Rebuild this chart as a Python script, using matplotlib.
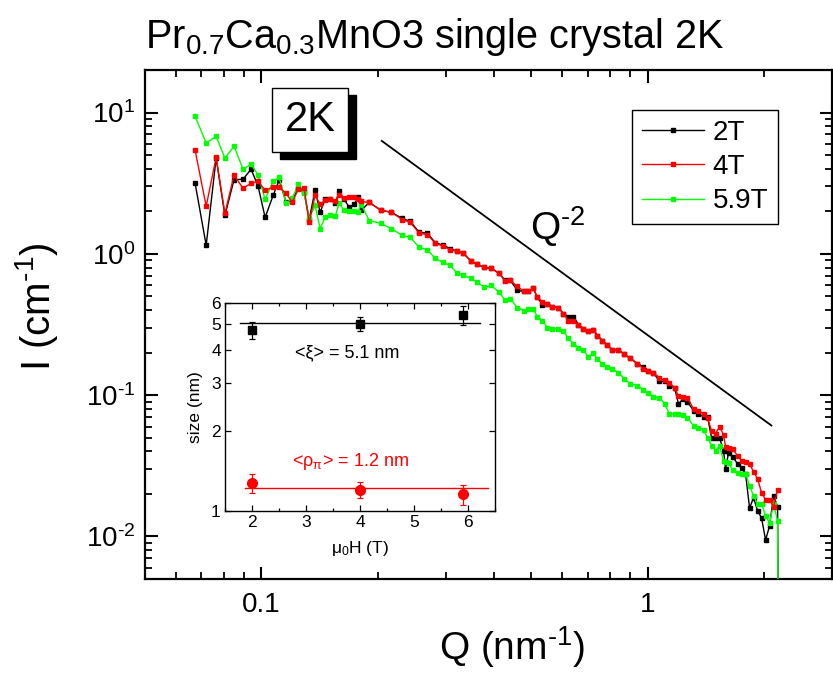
import numpy as np
import matplotlib
matplotlib.use("Agg")
import matplotlib.pyplot as plt
from matplotlib.patches import Rectangle
from matplotlib.ticker import FixedLocator, FixedFormatter, NullFormatter, LogLocator

plt.rcParams['font.family'] = ['Liberation Sans', 'DejaVu Sans']
plt.rcParams['mathtext.fontset'] = 'custom'
plt.rcParams['mathtext.rm'] = 'Liberation Sans'
plt.rcParams['mathtext.it'] = 'Liberation Sans'
plt.rcParams['mathtext.default'] = 'regular'

HY = "\u2010"  # short hyphen used as minus sign in the original

# ---------------------------------------------------------------
# data
# ---------------------------------------------------------------
q = [0.0674, 0.0720, 0.0764, 0.0805, 0.0850, 0.0897, 0.0941, 0.0981, 0.1023, 0.1073,
     0.1112, 0.1160, 0.1202, 0.1246, 0.1291, 0.1330, 0.1378, 0.1420, 0.1463, 0.1508,
     0.1553, 0.1591, 0.1639, 0.1689, 0.1740, 0.1781, 0.1814, 0.1902, 0.2043, 0.2169,
     0.2317, 0.2429, 0.2563, 0.2689, 0.2820, 0.2958, 0.3084, 0.3216, 0.3333, 0.3497,
     0.3624, 0.3778, 0.3939, 0.4131, 0.4281, 0.4411, 0.4599, 0.4796, 0.4911, 0.5060,
     0.5182, 0.5339, 0.5501, 0.5667, 0.5873, 0.6051, 0.6235, 0.6424, 0.6619, 0.6820,
     0.7027, 0.7239, 0.7413, 0.7638, 0.7868, 0.8105, 0.8402, 0.8707, 0.9026, 0.9410,
     0.9754, 1.0049, 1.0354, 1.0730, 1.1056, 1.1390, 1.1735, 1.2016, 1.2381, 1.2678,
     1.3142, 1.3538, 1.3950, 1.4289, 1.4632, 1.4986, 1.5346, 1.5719, 1.5908, 1.6197,
     1.6586, 1.7090, 1.7498, 1.7922, 1.8356, 1.8796, 1.9251, 1.9718, 2.0193, 2.0682,
     2.1178, 2.1690, 2.1950]

i_2t = [3.16, 1.15, 4.75, 1.87, 3.35, 3.37, 3.97, 3.01, 1.81, 2.59,
        3.32, 2.31, 2.39, 2.91, 2.72, 1.75, 2.82, 1.97, 2.43, 2.43,
        2.28, 2.77, 2.43, 2.13, 2.24, 2.51, 2.03, 2.31, 2.03, 1.97,
        1.78, 1.70, 1.42, 1.40, 1.20, 1.15, 1.09, 1.04, 1.01, 0.883,
        0.841, 0.801, 0.789, 0.727, 0.648, 0.648, 0.551, 0.542, 0.542, 0.569,
        0.491, 0.438, 0.445, 0.424, 0.417, 0.378, 0.360, 0.360, 0.316, 0.296,
        0.286, 0.291, 0.264, 0.243, 0.225, 0.210, 0.210, 0.194, 0.182, 0.167,
        0.159, 0.149, 0.144, 0.125, 0.125, 0.117, 0.113, 0.0869, 0.0944, 0.0898,
        0.0776, 0.0738, 0.0703, 0.0703, 0.0500, 0.0500, 0.0500, 0.0404, 0.0301, 0.0391,
        0.0366, 0.0327, 0.0306, 0.0278, 0.0159, 0.0188, 0.0152, 0.0135, 0.00944, 0.0119,
        0.0194, 0.0162, 0.0001]

i_4t = [5.41, 2.17, 4.82, 1.93, 3.60, 2.91, 3.16, 3.26, 2.82, 2.96,
        2.96, 2.68, 2.31, 2.86, 2.91, 1.67, 2.59, 2.24, 2.39, 2.43,
        2.35, 2.59, 2.47, 2.51, 2.51, 2.43, 2.35, 2.31, 2.03, 1.97,
        1.75, 1.67, 1.40, 1.37, 1.19, 1.13, 1.07, 1.04, 1.01, 0.883,
        0.841, 0.801, 0.789, 0.727, 0.638, 0.648, 0.588, 0.542, 0.542, 0.569,
        0.491, 0.460, 0.445, 0.424, 0.417, 0.378, 0.337, 0.337, 0.316, 0.296,
        0.286, 0.291, 0.264, 0.243, 0.225, 0.210, 0.210, 0.194, 0.182, 0.167,
        0.154, 0.149, 0.144, 0.133, 0.127, 0.122, 0.113, 0.0991, 0.0975, 0.0959,
        0.0801, 0.0776, 0.0738, 0.0692, 0.0560, 0.0533, 0.0598, 0.0525, 0.0432, 0.0425,
        0.0418, 0.0372, 0.0343, 0.0338, 0.0327, 0.0287, 0.0256, 0.0204, 0.0182, 0.0182,
        0.0162, 0.0214, np.nan]

i_59t = [9.43, 6.07, 6.80, 4.74, 5.78, 3.97, 4.31, 3.60, 2.43, 3.26,
         3.48, 2.28, 2.47, 3.10, 2.68, 1.78, 2.20, 1.51, 1.81, 1.87,
         1.84, 2.28, 2.03, 2.00, 2.00, 1.97, 2.24, 1.72, 1.64, 1.51,
         1.35, 1.31, 1.11, 1.07, 0.927, 0.869, 0.828, 0.727, 0.704, 0.670,
         0.628, 0.578, 0.598, 0.533, 0.468, 0.483, 0.417, 0.397, 0.410, 0.404,
         0.360, 0.337, 0.301, 0.296, 0.296, 0.286, 0.252, 0.232, 0.217, 0.210,
         0.185, 0.200, 0.179, 0.167, 0.159, 0.154, 0.144, 0.131, 0.120, 0.117,
         0.109, 0.104, 0.0975, 0.0959, 0.0869, 0.0738, 0.0738, 0.0738, 0.0727, 0.0692,
         0.0608, 0.0589, 0.0569, 0.0500, 0.0439, 0.0404, 0.0439, 0.0343, 0.0338, 0.0332,
         0.0296, 0.0282, 0.0278, 0.0278, 0.0228, 0.0194, 0.0170, 0.0170, 0.0140, 0.0125,
         0.0170, 0.0129, 0.0001]

series_labels = ["2T", "4T", "5.9T"]
series_colors = ["black", "red", "#00ff00"]

# Q^-2 guide line end points
q_guide = [0.205, 2.09]
i_guide = [6.3, 0.061]

# inset: correlation lengths vs field
field = [2.0, 4.0, 5.9]
xi = [4.75, 5.0, 5.4]
xi_err = [0.35, 0.3, 0.45]
rho = [1.27, 1.20, 1.155]
rho_err = [0.10, 0.085, 0.10]
xi_mean_x = [1.78, 6.22]
xi_mean = [5.05, 5.05]
rho_mean_x = [1.87, 6.37]
rho_mean = [1.22, 1.22]

x_ticks = [0.1, 1]
x_tick_labels = ["0.1", "1"]
y_ticks = [0.01, 0.1, 1, 10]
y_tick_labels = ["$10^{%s2}$" % HY, "$10^{%s1}$" % HY, "$10^{0}$", "$10^{1}$"]
ins_x_ticks = [2, 3, 4, 5, 6]
ins_y_ticks = [1, 2, 3, 4, 5, 6]

# ---------------------------------------------------------------
# main plot
# ---------------------------------------------------------------
fig = plt.figure(figsize=(8.33, 6.73), dpi=100)
ax = fig.add_axes([145 / 833, 1 - 579 / 673, 687 / 833, 509 / 673])

for ys, lab, col, z in zip([i_2t, i_4t, i_59t], series_labels, series_colors, [2, 4, 3]):
    ax.plot(q, ys, "-s", color=col, lw=1.0, ms=3.2, mec=col, label=lab, zorder=z)

ax.plot(q_guide, i_guide, color="black", lw=1.3)

ax.set_xscale("log")
ax.set_yscale("log")
ax.set_xlim(0.05, 3)
ax.set_ylim(0.005, 20)

ax.xaxis.set_major_locator(FixedLocator(x_ticks))
ax.xaxis.set_major_formatter(FixedFormatter(x_tick_labels))
ax.xaxis.set_minor_locator(LogLocator(base=10, subs=np.arange(2, 10), numticks=20))
ax.xaxis.set_minor_formatter(NullFormatter())
ax.yaxis.set_major_locator(FixedLocator(y_ticks))
ax.yaxis.set_major_formatter(FixedFormatter(y_tick_labels))
ax.yaxis.set_minor_locator(LogLocator(base=10, subs=np.arange(2, 10), numticks=20))
ax.yaxis.set_minor_formatter(NullFormatter())

ax.tick_params(which="both", direction="in", top=True, right=True)
ax.tick_params(which="major", length=9, width=1.5, labelsize=20)
ax.tick_params(axis="x", which="major", pad=9)
ax.tick_params(axis="y", which="major", pad=7)
ax.tick_params(which="minor", length=5, width=1.3)
for s in ax.spines.values():
    s.set_linewidth(1.6)

ax.set_xlabel("Q (nm$^{%s1}$)" % HY, fontsize=28)
ax.xaxis.set_label_coords(0.534, -0.088)
ax.set_ylabel("I (cm$^{%s1}$)" % HY, fontsize=29)
ax.yaxis.set_label_coords(-0.124, 0.535)

leg = ax.legend(loc="upper right", bbox_to_anchor=(778 / 833, 1 - 110 / 673),
                bbox_transform=fig.transFigure, fontsize=20, frameon=True,
                fancybox=False, edgecolor="black", framealpha=1,
                handlelength=2.25, handletextpad=0.3, labelspacing=0.3,
                borderpad=0.35, borderaxespad=0)
leg.get_frame().set_linewidth(1.0)

fig.text(145 / 833, 1 - 48 / 673, r"Pr$_{0.7}$Ca$_{0.3}$MnO3 single crystal 2K",
         fontsize=28.5, ha="left", va="baseline")

# "2K" box with shadow
fig.patches.append(Rectangle((280 / 833, 1 - 159 / 673), 76 / 833, 64 / 673,
                             transform=fig.transFigure, facecolor="black",
                             edgecolor="black", zorder=5))
fig.patches.append(Rectangle((272 / 833, 1 - 152 / 673), 76 / 833, 64 / 673,
                             transform=fig.transFigure, facecolor="white",
                             edgecolor="black", lw=1.0, zorder=6))
fig.text(310 / 833, 1 - 120 / 673, "2K", fontsize=30, ha="center", va="center", zorder=7)

fig.text(530 / 833, 1 - 240 / 673, "Q$^{%s2}$" % HY, fontsize=28, ha="left", va="baseline")

# ---------------------------------------------------------------
# inset
# ---------------------------------------------------------------
ins = fig.add_axes([225 / 833, 1 - 511 / 673, 270 / 833, 208 / 673])
ins.plot(xi_mean_x, xi_mean, color="black", lw=1.0)
ins.plot(rho_mean_x, rho_mean, color="red", lw=1.0)
ins.errorbar(field, xi, yerr=xi_err, fmt="s", color="black", ms=6, capsize=2,
             elinewidth=0.9, capthick=0.9)
ins.errorbar(field, rho, yerr=rho_err, fmt="o", color="red", ms=7, capsize=2,
             elinewidth=0.9, capthick=0.9)
ins.set_yscale("log")
ins.set_xlim(1.5, 6.5)
ins.set_ylim(1, 6)
ins.xaxis.set_major_locator(FixedLocator(ins_x_ticks))
ins.xaxis.set_minor_locator(FixedLocator([1.5, 2.5, 3.5, 4.5, 5.5, 6.5]))
ins.yaxis.set_major_locator(FixedLocator(ins_y_ticks))
ins.yaxis.set_major_formatter(FixedFormatter([str(v) for v in ins_y_ticks]))
ins.yaxis.set_minor_locator(FixedLocator([]))
ins.yaxis.set_minor_formatter(NullFormatter())
ins.tick_params(which="both", direction="in", top=True, right=True, labelsize=12.5,
                width=0.9)
ins.tick_params(which="major", length=4, pad=3)
ins.tick_params(which="minor", length=2.5)
for s in ins.spines.values():
    s.set_linewidth(1.0)
ins.set_xlabel(r"μ$_0$H (T)", fontsize=12.5, labelpad=6)
ins.set_ylabel("size (nm)", fontsize=12.5, labelpad=6)

fig.text(295 / 833, 1 - 353 / 673, "<ξ> = 5.1 nm", fontsize=13, ha="left",
         va="center", color="black")
fig.text(292 / 833, 1 - 462 / 673, r"<ρ$_\pi$> = 1.2 nm", fontsize=13, ha="left",
         va="center", color="red")

fig.savefig("out.png", dpi=100)
